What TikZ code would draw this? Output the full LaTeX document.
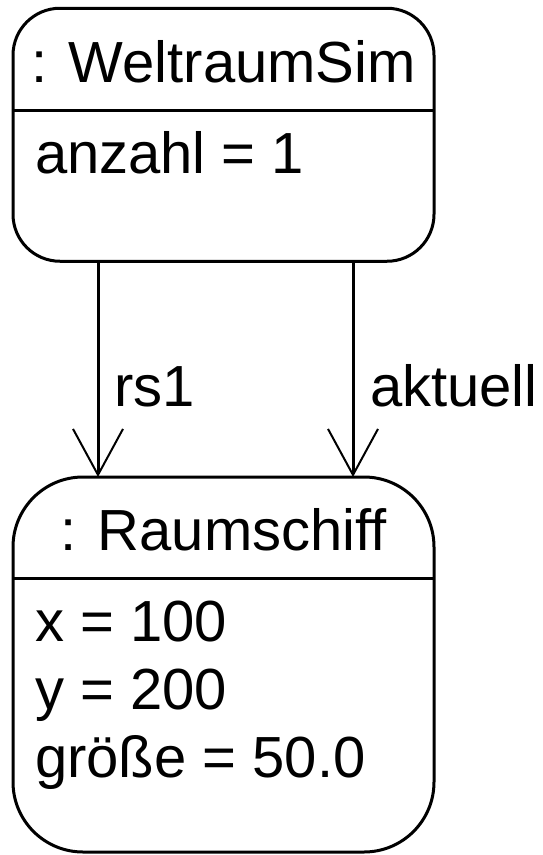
\documentclass[tikz,border=0pt]{standalone}
\usepackage{fontspec}
\setmainfont{Liberation Sans}
\usetikzlibrary{arrows.meta}
\begin{document}
\begin{tikzpicture}[x=1pt,y=-1pt,
  objbox/.style={draw=black, line width=3pt, rectangle, inner sep=0pt, outer sep=0pt},
  txt/.style={inner sep=0pt, outer sep=0pt, font=\fontsize{58}{68}\selectfont, text=black},
  divider/.style={line width=3pt},
  assoc/.style={line width=3pt, -{Straight Barb[length=46pt, width=50pt, line width=2pt]}}]
\useasboundingbox (0,0) rectangle (542,855);
% boxes
\node[objbox, rounded corners=47pt, minimum width=421pt, minimum height=253pt] (sim) at (223.5,134.75) {};
\node[objbox, rounded corners=70pt, minimum width=421pt, minimum height=375pt] (ship) at (223.5,664.5) {};
% dividers
\coordinate (d1) at (0,110);
\coordinate (d2) at (0,578);
\draw[divider] (sim.west |- d1) -- (sim.east |- d1);
\draw[divider] (ship.west |- d2) -- (ship.east |- d2);
% titles
\node[txt, anchor=base] (simtitle) at (223.5,82) {: WeltraumSim};
\node[txt, anchor=base] (shiptitle) at (223.5,550) {: Raumschiff};
% attributes
\node[txt, anchor=base west] (anz) at (35,173) {anzahl = 1};
\node[txt, anchor=base west] (ax) at (35,641) {x = 100};
\node[txt, anchor=base west] (ay) at (35,709) {y = 200};
\node[txt, anchor=base west] (ag) at (35,777) {größe = 50.0};
% associations
\coordinate (c1) at (98,0);
\coordinate (c2) at (353,0);
\draw[assoc] (sim.south -| c1) -- (ship.north -| c1);
\draw[assoc] (sim.south -| c2) -- (ship.north -| c2);
\node[txt, anchor=base west] (lrs1) at (114,406) {rs1};
\node[txt, anchor=base west] (lakt) at (370,406) {aktuell};
\end{tikzpicture}
\end{document}
